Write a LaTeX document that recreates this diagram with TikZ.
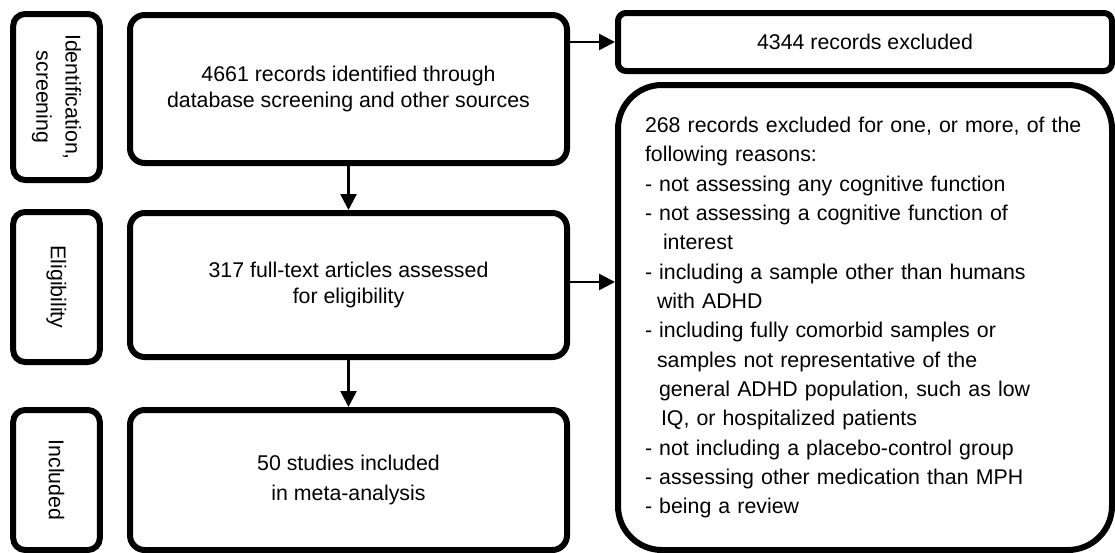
\documentclass[tikz,border=0pt]{standalone}
\usepackage{fontspec}
\setmainfont{Liberation Sans}
\usepackage{tikz}
\usetikzlibrary{arrows.meta, positioning, calc}

\begin{document}
\begin{tikzpicture}[x=0.75pt, y=-0.75pt,
    every node/.style={font=\fontsize{16}{19}\selectfont},
    phase/.style={draw, line width=4.5pt, rounded corners=9pt, minimum width=65pt, inner sep=0pt},
    stagebox/.style={draw, line width=4.5pt, rounded corners=11pt, minimum width=327.75pt, align=center},
    arr/.style={line width=2pt, -{Triangle[length=12pt, width=12pt]}}]
  \useasboundingbox (0,0) rectangle (1115,553);

  % phase labels on the left
  \node[phase, minimum height=124.5pt] (idf) at (56.5,97) {};
  \node[rotate=-90, align=center, font=\fontsize{16}{22}\selectfont] at (idf) {Identification,\\screening};
  \node[phase, minimum height=112.5pt] (elig) at (56.5,287) {};
  \node[rotate=-90] at (elig) {Eligibility};
  \node[phase, minimum height=105pt] (incl) at (56.5,480) {};
  \node[rotate=-90] at (incl) {Included};

  % main flow
  \node[stagebox, minimum height=111pt] (found) at (348.5,89)
      {4661 records identified through\\database screening and other sources};
  \node[stagebox, minimum height=108pt] (fulltext) at (348.5,285)
      {317 full-text articles assessed\\for eligibility};
  \node[stagebox, minimum height=105pt] (meta) at (348.5,480)
      {50 studies included\\[3pt]in meta-analysis};

  % exclusions
  \node[draw, line width=4.5pt, rounded corners=6pt, minimum width=370.5pt, minimum height=43.5pt]
      (excl) at (865,42) {4344 records excluded};
  \node[draw, line width=4.5pt, rounded corners=33pt, minimum height=348.75pt,
        text width=330pt, inner xsep=20.25pt, align=left,
        font=\fontsize{16}{22}\selectfont] (reasons) at (865,317.5)
      {268 records excluded for one, or more, of the\\
       following reasons:\\
       - not assessing any cognitive function\\
       - not assessing a cognitive function of\\
       \hspace*{13.5pt}interest\\
       - including a sample other than humans\\
       \hspace*{9pt}with ADHD\\
       - including fully comorbid samples or\\
       \hspace*{9pt}samples not representative of the\\
       \hspace*{10.5pt}general ADHD population, such as low\\
       \hspace*{12pt}IQ, or hospitalized patients\\
       - not including a placebo-control group\\
       - assessing other medication than MPH\\
       - being a review};

  \draw[arr] (found) -- (fulltext);
  \draw[arr] (fulltext) -- (meta);
  \draw[arr] (found.east |- excl) -- (excl);
  \draw[arr] ($(fulltext.east)+(0,-3)$) -- ($(fulltext.east -| reasons.west)+(0,-3)$);
\end{tikzpicture}
\end{document}
